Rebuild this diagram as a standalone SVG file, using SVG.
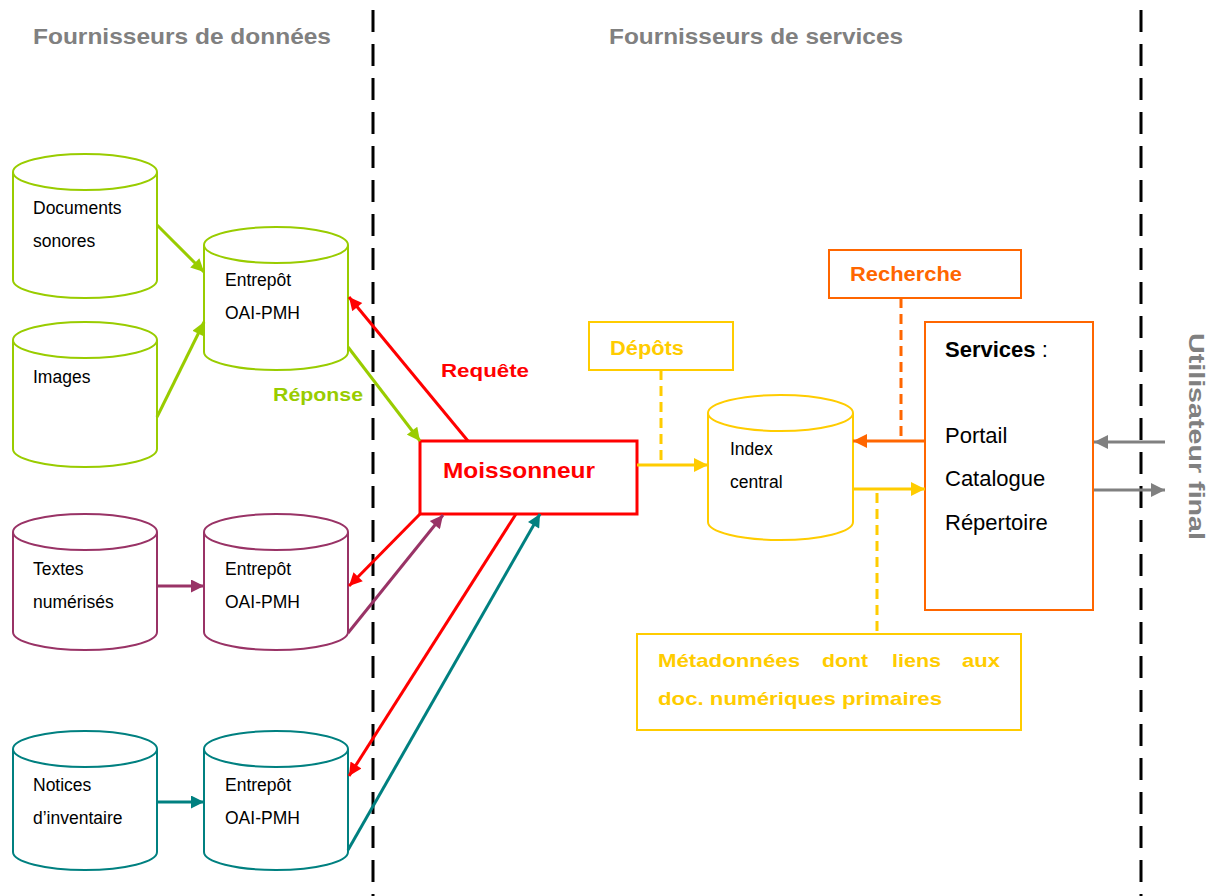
<svg xmlns="http://www.w3.org/2000/svg" width="1227" height="896" viewBox="0 0 1227 896">
<style>
text{font-family:"Liberation Sans",Arial,sans-serif}
.sm{font-size:17.5px;fill:#000}
.b{font-weight:bold}
.cyl{fill:#fff;stroke-width:2}
.g{stroke:#99CC00}.r{stroke:#FF0000}.p{stroke:#993366}.t{stroke:#008080}.y{stroke:#FFCC00}.o{stroke:#FF6600}.gr{stroke:#808080}
.ln{fill:none;stroke-width:3}
.sep{stroke:#000;stroke-width:3;stroke-dasharray:22 12;fill:none}
</style>
<defs>
<marker id="mg" viewBox="0 0 10 10" refX="10" refY="5" markerWidth="15" markerHeight="13" markerUnits="userSpaceOnUse" orient="auto"><path d="M0,0 L10,5 L0,10 z" fill="#99CC00"/></marker>
<marker id="mr" viewBox="0 0 10 10" refX="10" refY="5" markerWidth="15" markerHeight="13" markerUnits="userSpaceOnUse" orient="auto"><path d="M0,0 L10,5 L0,10 z" fill="#FF0000"/></marker>
<marker id="mp" viewBox="0 0 10 10" refX="10" refY="5" markerWidth="15" markerHeight="13" markerUnits="userSpaceOnUse" orient="auto"><path d="M0,0 L10,5 L0,10 z" fill="#993366"/></marker>
<marker id="mt" viewBox="0 0 10 10" refX="10" refY="5" markerWidth="15" markerHeight="13" markerUnits="userSpaceOnUse" orient="auto"><path d="M0,0 L10,5 L0,10 z" fill="#008080"/></marker>
<marker id="my" viewBox="0 0 10 10" refX="10" refY="5" markerWidth="16" markerHeight="14" markerUnits="userSpaceOnUse" orient="auto"><path d="M0,0 L10,5 L0,10 z" fill="#FFCC00"/></marker>
<marker id="mo" viewBox="0 0 10 10" refX="10" refY="5" markerWidth="16" markerHeight="14" markerUnits="userSpaceOnUse" orient="auto"><path d="M0,0 L10,5 L0,10 z" fill="#FF6600"/></marker>
<marker id="mgr" viewBox="0 0 10 10" refX="10" refY="5" markerWidth="16" markerHeight="14" markerUnits="userSpaceOnUse" orient="auto"><path d="M0,0 L10,5 L0,10 z" fill="#808080"/></marker>
</defs>
<rect width="1227" height="896" fill="#fff"/>

<g id="separators">
<line class="sep" x1="373" y1="10" x2="373" y2="896"/>
<line class="sep" x1="1141" y1="10" x2="1141" y2="896"/>
</g>

<g id="headers">
<text x="33" y="44" class="b" font-size="22" fill="#808080" textLength="298" lengthAdjust="spacingAndGlyphs">Fournisseurs de données</text>
<text x="609" y="44" class="b" font-size="22" fill="#808080" textLength="294" lengthAdjust="spacingAndGlyphs">Fournisseurs de services</text>
<text transform="translate(1189,333) rotate(90)" class="b" font-size="22" fill="#808080" textLength="207" lengthAdjust="spacingAndGlyphs">Utilisateur final</text>
</g>

<g id="documents-sonores">
<path class="cyl g" d="M13,172 V280 A72,18 0 0 0 157,280 V172"/>
<ellipse class="cyl g" cx="85" cy="172" rx="72" ry="18"/>
<text x="33" y="214" class="sm">Documents</text>
<text x="33" y="247" class="sm">sonores</text>
</g>

<g id="images">
<path class="cyl g" d="M13,340 V449 A72,18 0 0 0 157,449 V340"/>
<ellipse class="cyl g" cx="85" cy="340" rx="72" ry="18"/>
<text x="33" y="383" class="sm">Images</text>
</g>

<g id="entrepot-1">
<path class="cyl g" d="M204,245 V352 A72,18 0 0 0 348,352 V245"/>
<ellipse class="cyl g" cx="276" cy="245" rx="72" ry="18"/>
<text x="225" y="286" class="sm">Entrepôt</text>
<text x="225" y="319" class="sm">OAI-PMH</text>
</g>

<g id="textes-numerises">
<path class="cyl p" d="M13,532 V632 A72,18 0 0 0 157,632 V532"/>
<ellipse class="cyl p" cx="85" cy="532" rx="72" ry="18"/>
<text x="33" y="575" class="sm">Textes</text>
<text x="33" y="608" class="sm">numérisés</text>
</g>

<g id="entrepot-2">
<path class="cyl p" d="M204,532 V632 A72,18 0 0 0 348,632 V532"/>
<ellipse class="cyl p" cx="276" cy="532" rx="72" ry="18"/>
<text x="225" y="575" class="sm">Entrepôt</text>
<text x="225" y="608" class="sm">OAI-PMH</text>
</g>

<g id="notices-inventaire">
<path class="cyl t" d="M13,749 V852 A72,18 0 0 0 157,852 V749"/>
<ellipse class="cyl t" cx="85" cy="749" rx="72" ry="18"/>
<text x="33" y="791" class="sm">Notices</text>
<text x="33" y="824" class="sm">d’inventaire</text>
</g>

<g id="entrepot-3">
<path class="cyl t" d="M204,749 V852 A72,18 0 0 0 348,852 V749"/>
<ellipse class="cyl t" cx="276" cy="749" rx="72" ry="18"/>
<text x="225" y="791" class="sm">Entrepôt</text>
<text x="225" y="824" class="sm">OAI-PMH</text>
</g>

<g id="moissonneur">
<rect x="420" y="441" width="217" height="73" fill="#fff" stroke="#FF0000" stroke-width="3"/>
<text x="443" y="478" class="b" font-size="22" fill="#FF0000" textLength="152" lengthAdjust="spacingAndGlyphs">Moissonneur</text>
</g>

<g id="index-central">
<path class="cyl y" d="M708,413 V522 A72.5,18 0 0 0 853,522 V413"/>
<ellipse class="cyl y" cx="780.5" cy="413" rx="72.5" ry="18"/>
<text x="730" y="455" class="sm">Index</text>
<text x="730" y="488" class="sm">central</text>
</g>

<g id="depots">
<rect x="589" y="322" width="144" height="48" fill="#fff" stroke="#FFCC00" stroke-width="2"/>
<text x="610" y="355" class="b" font-size="20" fill="#FFCC00" textLength="74" lengthAdjust="spacingAndGlyphs">Dépôts</text>
</g>

<g id="recherche">
<rect x="829" y="250" width="192" height="48" fill="#fff" stroke="#FF6600" stroke-width="2"/>
<text x="850" y="281" class="b" font-size="20" fill="#FF6600" textLength="112" lengthAdjust="spacingAndGlyphs">Recherche</text>
</g>

<g id="services">
<rect x="925" y="322" width="168" height="288" fill="#fff" stroke="#FF6600" stroke-width="2"/>
<text x="945" y="357" font-size="22" fill="#000"><tspan class="b" font-weight="bold">Services</tspan> :</text>
<text x="945" y="443" font-size="22" fill="#000">Portail</text>
<text x="945" y="486" font-size="22" fill="#000">Catalogue</text>
<text x="945" y="530" font-size="22" fill="#000">Répertoire</text>
</g>

<g id="metadonnees">
<rect x="637" y="634" width="384" height="96" fill="#fff" stroke="#FFCC00" stroke-width="2"/>
<g class="b" font-size="19" fill="#FFCC00">
<text x="658" y="667" textLength="142" lengthAdjust="spacingAndGlyphs">Métadonnées</text>
<text x="822" y="667" textLength="46" lengthAdjust="spacingAndGlyphs">dont</text>
<text x="892" y="667" textLength="49" lengthAdjust="spacingAndGlyphs">liens</text>
<text x="962" y="667" textLength="38" lengthAdjust="spacingAndGlyphs">aux</text>
<text x="658" y="705" textLength="284" lengthAdjust="spacingAndGlyphs">doc. numériques primaires</text>
</g>
</g>

<g id="labels">
<text x="441" y="377" class="b" font-size="19" fill="#FF0000" textLength="88" lengthAdjust="spacingAndGlyphs">Requête</text>
<text x="273" y="401" class="b" font-size="19" fill="#99CC00" textLength="90" lengthAdjust="spacingAndGlyphs">Réponse</text>
</g>

<g id="connectors">
<line class="ln g" x1="157" y1="225" x2="204" y2="272" marker-end="url(#mg)"/>
<line class="ln g" x1="157" y1="417" x2="204" y2="322" marker-end="url(#mg)"/>
<line class="ln r" x1="468" y1="441" x2="349" y2="297" marker-end="url(#mr)"/>
<line class="ln g" x1="348" y1="347" x2="420" y2="441" marker-end="url(#mg)"/>
<line class="ln p" x1="157" y1="586" x2="204" y2="586" marker-end="url(#mp)"/>
<line class="ln r" x1="420" y1="514" x2="349" y2="586" marker-end="url(#mr)"/>
<line class="ln p" x1="348" y1="633" x2="443" y2="515" marker-end="url(#mp)"/>
<line class="ln t" x1="157" y1="802" x2="204" y2="802" marker-end="url(#mt)"/>
<line class="ln r" x1="516" y1="514" x2="349" y2="776" marker-end="url(#mr)"/>
<line class="ln t" x1="348" y1="850" x2="540" y2="514" marker-end="url(#mt)"/>
<line class="ln y" x1="637" y1="465" x2="708" y2="465" marker-end="url(#my)"/>
<line class="ln y" x1="661" y1="370" x2="661" y2="465" stroke-dasharray="10 6"/>
<line class="ln o" x1="925" y1="441" x2="853" y2="441" marker-end="url(#mo)"/>
<line class="ln o" x1="901" y1="298" x2="901" y2="441" stroke-dasharray="10 6"/>
<line class="ln y" x1="853" y1="489" x2="925" y2="489" marker-end="url(#my)"/>
<line class="ln y" x1="877" y1="493" x2="877" y2="634" stroke-dasharray="10 6"/>
<line class="ln gr" x1="1165" y1="442" x2="1094" y2="442" marker-end="url(#mgr)"/>
<line class="ln gr" x1="1094" y1="490" x2="1165" y2="490" marker-end="url(#mgr)"/>
</g>
</svg>
